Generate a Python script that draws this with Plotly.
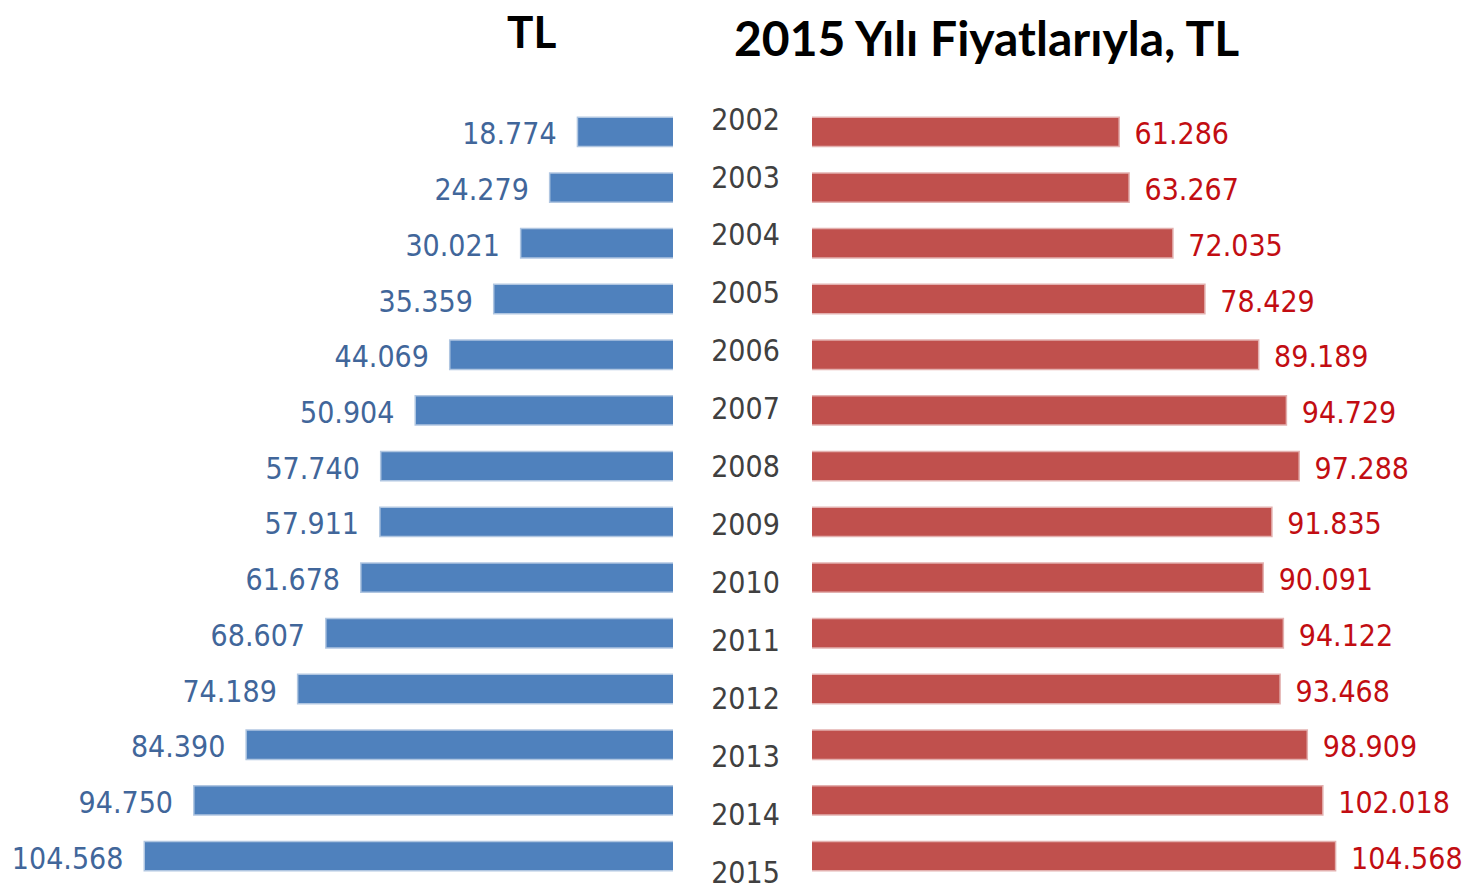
import plotly.graph_objects as go

years = ["2002", "2003", "2004", "2005", "2006", "2007", "2008",
         "2009", "2010", "2011", "2012", "2013", "2014", "2015"]
nominal_tl = [18.774, 24.279, 30.021, 35.359, 44.069, 50.904, 57.740,
              57.911, 61.678, 68.607, 74.189, 84.390, 94.750, 104.568]
real_2015_tl = [61.286, 63.267, 72.035, 78.429, 89.189, 94.729, 97.288,
                91.835, 90.091, 94.122, 93.468, 98.909, 102.018, 104.568]
title_left = "TL"
title_right = "2015 Yılı Fiyatlarıyla, TL"


def fmt(v):
    return f"{v:.3f}"


W, H = 1472, 890
OFF = 8  # page body margin of the html


def fx(px):
    return (px - OFF) / W


def fy(py):
    return 1 - (py - OFF) / H


BLUE = "#4f81bd"
RED = "#c0504d"
BLUE_TXT = "#41669a"
RED_TXT = "#c20d12"
NUM_FONT = "DejaVu Sans Condensed, DejaVu Sans, sans-serif"

fig = go.Figure()

fig.add_trace(go.Bar(
    y=years, x=nominal_tl, orientation="h", xaxis="x", yaxis="y",
    marker=dict(color=BLUE, line=dict(color="rgba(79,129,189,0.45)", width=3)),
    width=0.5, hoverinfo="skip"))
fig.add_trace(go.Scatter(
    y=years, x=nominal_tl, xaxis="x", yaxis="y4", mode="text",
    text=[fmt(v) + "\u2009\u2009\u2009\u2009" for v in nominal_tl],
    textposition="middle left", cliponaxis=False,
    textfont=dict(family=NUM_FONT, size=30, color=BLUE_TXT), hoverinfo="skip"))

fig.add_trace(go.Bar(
    y=years, x=real_2015_tl, orientation="h", xaxis="x2", yaxis="y2",
    marker=dict(color=RED, line=dict(color="rgba(192,80,77,0.45)", width=3)),
    width=0.5, hoverinfo="skip"))
fig.add_trace(go.Scatter(
    y=years, x=real_2015_tl, xaxis="x2", yaxis="y5", mode="text",
    text=["\u2009\u2009\u2009" + fmt(v) for v in real_2015_tl],
    textposition="middle right", cliponaxis=False,
    textfont=dict(family=NUM_FONT, size=30, color=RED_TXT), hoverinfo="skip"))

fig.add_trace(go.Scatter(
    y=years, x=[0.5] * len(years), xaxis="x3", yaxis="y3", mode="text",
    text=years, textposition="middle center", cliponaxis=False,
    textfont=dict(family=NUM_FONT, size=30, color="#404040"), hoverinfo="skip"))

hidden = dict(visible=False, showgrid=False, zeroline=False, fixedrange=True)
cat = dict(type="category", categoryorder="array", categoryarray=years)
ydom = [fy(884), fy(104)]
ydom_lab = [fy(889), fy(109)]

fig.update_layout(
    width=W, height=H,
    margin=dict(l=0, r=0, t=0, b=0),
    paper_bgcolor="white", plot_bgcolor="rgba(0,0,0,0)",
    showlegend=False,
    xaxis=dict(domain=[0, fx(673)], range=[131.7, 0], anchor="y", **hidden),
    yaxis=dict(domain=ydom, range=[13.5, -0.5], anchor="x", **cat, **hidden),
    xaxis2=dict(domain=[fx(812), 1], range=[0, 133.6], anchor="y2", **hidden),
    yaxis2=dict(domain=ydom, range=[13.5, -0.5], anchor="x2", **cat, **hidden),
    xaxis3=dict(domain=[fx(676), fx(815)], range=[0, 1], anchor="y3", **hidden),
    yaxis3=dict(domain=[0, fy(93)], range=[13.38, -0.5], anchor="x3", **cat, **hidden),
    yaxis4=dict(domain=ydom_lab, range=[13.5, -0.5], anchor="x", **cat, **hidden),
    yaxis5=dict(domain=ydom_lab, range=[13.5, -0.5], anchor="x2", **cat, **hidden),
    annotations=[
        dict(text=f"<b>{title_left}</b>", x=fx(531), y=fy(31),
             xref="paper", yref="paper", showarrow=False,
             xanchor="center", yanchor="middle",
             font=dict(family="Lato, sans-serif", size=44, color="black")),
        dict(text=f"<b>{title_right}</b>", x=fx(986), y=fy(37),
             xref="paper", yref="paper", showarrow=False,
             xanchor="center", yanchor="middle",
             font=dict(family="Lato, sans-serif", size=48, color="black")),
    ],
)

fig.write_html("out.html")
